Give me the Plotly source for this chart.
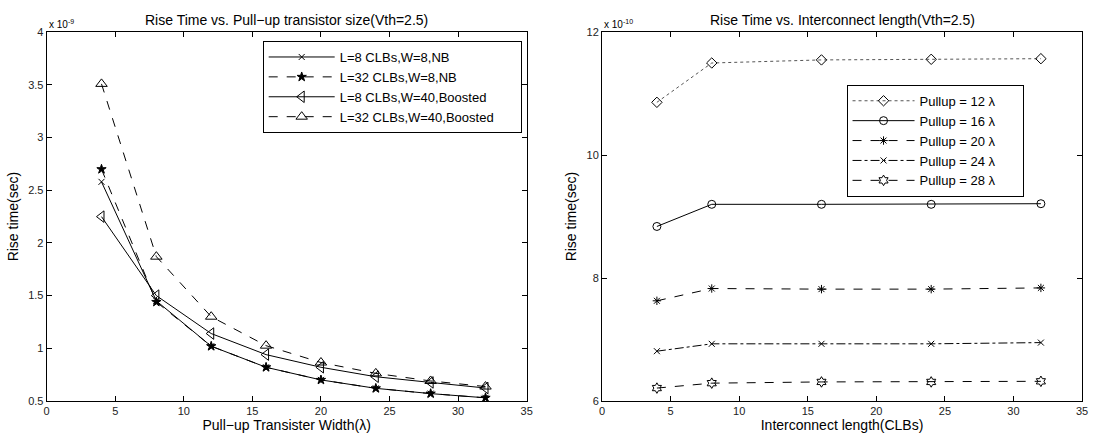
import plotly.graph_objects as go

# ---- data: left chart (rise time, units of 1e-9 s) ----
width_x = [4, 8, 12, 16, 20, 24, 28, 32]
l8_w8_nb = [2.58, 1.45, 1.02, 0.82, 0.70, 0.62, 0.57, 0.53]
l32_w8_nb = [2.70, 1.44, 1.02, 0.82, 0.70, 0.62, 0.57, 0.53]
l8_w40_boost = [2.25, 1.50, 1.14, 0.94, 0.82, 0.73, 0.676, 0.623]
l32_w40_boost = [3.51, 1.87, 1.30, 1.025, 0.865, 0.762, 0.69, 0.637]
left_names = ["L=8 CLBs,W=8,NB", "L=32 CLBs,W=8,NB",
              "L=8 CLBs,W=40,Boosted", "L=32 CLBs,W=40,Boosted"]

# ---- data: right chart (rise time, units of 1e-10 s) ----
length_x = [4, 8, 16, 24, 32]
pull12 = [10.86, 11.50, 11.55, 11.56, 11.57]
pull16 = [8.84, 9.20, 9.20, 9.20, 9.21]
pull20 = [7.63, 7.83, 7.82, 7.82, 7.84]
pull24 = [6.81, 6.93, 6.93, 6.93, 6.95]
pull28 = [6.21, 6.29, 6.31, 6.31, 6.32]
right_names = ["Pullup = 12 λ", "Pullup = 16 λ", "Pullup = 20 λ",
               "Pullup = 24 λ", "Pullup = 28 λ"]

FONT = "Liberation Sans, Arial, Helvetica, sans-serif"
W, H = 1094, 442
PAD = "\u00a0" * 6

fig = go.Figure()

left_series = [l8_w8_nb, l32_w8_nb, l8_w40_boost, l32_w40_boost]
left_dash = ["solid", "dash", "solid", "dash"]
left_sym = ["x-thin-open", "star", "triangle-left-open", "triangle-up-open"]
left_msize = [6, 7, 10, 10]
for ys, nm, d, s, ms in zip(left_series, left_names, left_dash, left_sym, left_msize):
    fig.add_trace(go.Scatter(
        x=width_x, y=ys, name=nm + PAD, mode="lines+markers",
        line=dict(color="black", width=1, dash=d),
        marker=dict(symbol=s, size=ms, color="black",
                    line=dict(color="black", width=1)),
        xaxis="x", yaxis="y", legend="legend"))

right_series = [pull12, pull16, pull20, pull24, pull28]
right_dash = ["dot", "solid", "dash", "dashdot", "dash"]
right_sym = ["diamond-open", "circle-open", "asterisk-open", "x-thin-open", "hexagram-open"]
right_msize = [8, 8, 7, 6, 8]
right_color = ["#555555", "black", "black", "black", "black"]
for ys, nm, d, s, ms, c in zip(right_series, right_names, right_dash, right_sym, right_msize, right_color):
    fig.add_trace(go.Scatter(
        x=length_x, y=ys, name=nm + PAD, mode="lines+markers",
        line=dict(color=c, width=1, dash=d),
        marker=dict(symbol=s, size=ms, color="black",
                    line=dict(color="black", width=1)),
        xaxis="x2", yaxis="y2", legend="legend2"))

x1 = [44 / W, 528 / W]
x2 = [604 / W, 1088 / W]
yd = [1 - 406 / H, 1 - 27 / H]

axis_common = dict(showline=True, linecolor="black", linewidth=1, mirror="allticks",
                   ticks="inside", ticklen=5, tickcolor="black", showgrid=False,
                   zeroline=False, tickfont=dict(family=FONT, size=11, color="#222"))

fig.update_layout(
    width=W, height=H, margin=dict(l=0, r=0, t=0, b=0),
    paper_bgcolor="white", plot_bgcolor="white",
    font=dict(family=FONT, color="black"),
    xaxis=dict(domain=x1, range=[0, 35], dtick=5, anchor="y",
               title=dict(text="Pull−up Transister Width(λ)", font=dict(size=14), standoff=2),
               **axis_common),
    yaxis=dict(domain=yd, range=[0.5, 4], dtick=0.5, anchor="x",
               title=dict(text="Rise time(sec)", font=dict(size=14), standoff=6),
               **axis_common),
    xaxis2=dict(domain=x2, range=[0, 35], dtick=5, anchor="y2",
                title=dict(text="Interconnect length(CLBs)", font=dict(size=14), standoff=2),
                **axis_common),
    yaxis2=dict(domain=yd, range=[6, 12], dtick=2, anchor="x2",
                title=dict(text="Rise time(sec)", font=dict(size=14), standoff=6),
                **axis_common),
    legend=dict(x=523 / W, xanchor="right", y=1 - 36 / H, yanchor="top",
                bgcolor="white", bordercolor="black", borderwidth=1,
                font=dict(family=FONT, size=13), tracegroupgap=0,
                itemwidth=66),
    legend2=dict(x=1029 / W, xanchor="right", y=1 - 81 / H, yanchor="top",
                 bgcolor="white", bordercolor="black", borderwidth=1,
                 font=dict(family=FONT, size=13), tracegroupgap=0,
                 itemwidth=62),
    showlegend=True,
)

fig.add_annotation(text="Rise Time vs. Pull−up transistor size(Vth=2.5)",
                   x=(x1[0] + x1[1]) / 2, y=1 - 14 / H, xref="paper", yref="paper",
                   xanchor="center", yanchor="middle",
                   showarrow=False, font=dict(size=14, family=FONT))
fig.add_annotation(text="Rise Time vs. Interconnect length(Vth=2.5)",
                   x=(x2[0] + x2[1]) / 2, y=1 - 14 / H, xref="paper", yref="paper",
                   xanchor="center", yanchor="middle",
                   showarrow=False, font=dict(size=14, family=FONT))
fig.add_annotation(text="x 10<sup>-9</sup>", x=x1[0], y=1 - 27 / H, xref="paper", yref="paper",
                   xanchor="left", yanchor="bottom", showarrow=False,
                   font=dict(size=10, family=FONT))
fig.add_annotation(text="x 10<sup>-10</sup>", x=x2[0], y=1 - 27 / H, xref="paper", yref="paper",
                   xanchor="left", yanchor="bottom", showarrow=False,
                   font=dict(size=10, family=FONT))

fig.write_html("out.html")
